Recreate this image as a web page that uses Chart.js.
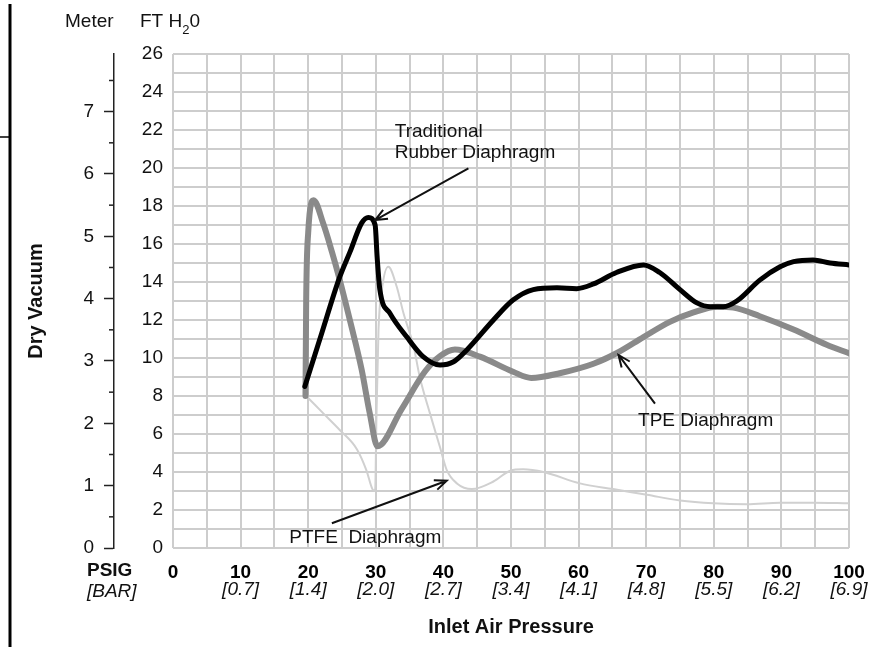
<!DOCTYPE html>
<html>
<head>
<meta charset="utf-8">
<script src="https://cdn.jsdelivr.net/npm/chart.js@4.4.1/dist/chart.umd.min.js"></script>
<style>
    html, body { margin: 0; padding: 0; background: #fff; }
    #wrap { width: 888px; height: 647px; position: relative; }
</style>
</head>
<body>
<div id="wrap"><canvas id="vacuumChart"></canvas></div>
<script>
// ==================== DRY VACUUM vs INLET AIR PRESSURE ====================

// values: inlet pressure (psig) / dry vacuum (ft H2O)
const rubberPsi = [19.5, 22, 24.6, 26.2, 27.9, 28.9, 29.9, 30.2, 30.6, 32.1, 34.6, 37.0, 39.5, 41.5, 43.4, 47.4, 50.3, 53.3, 56.8, 59.7, 62.2, 65.6, 69.6, 72, 75, 77.5, 79.5, 81.4, 83.4, 86.8, 89.8, 91.8, 94.7, 97.2, 100];
const rubberFt  = [8.5, 11.3, 14.2, 15.6, 17.1, 17.4, 17.0, 15.3, 13.6, 12.35, 11.1, 10.07, 9.63, 9.8, 10.4, 12.0, 13.05, 13.6, 13.7, 13.65, 13.9, 14.5, 14.9, 14.5, 13.6, 12.9, 12.7, 12.7, 13.0, 14.1, 14.8, 15.07, 15.16, 15.0, 14.9];

const tpePsi = [19.6, 19.7, 20.0, 20.8, 22.2, 23.5, 24.6, 26.3, 27.9, 29.1, 30.25, 33.8, 37.3, 39.5, 41.7, 45.4, 50.3, 53, 57.2, 62.2, 65.6, 69.6, 73.5, 77, 80.5, 82.9, 86.8, 91.8, 96.7, 100];
const tpeFt  = [8.0, 13.0, 16.6, 18.3, 17.1, 15.6, 14.2, 11.8, 9.4, 7.1, 5.35, 7.3, 9.3, 10.1, 10.45, 10.07, 9.28, 8.95, 9.2, 9.7, 10.25, 11.1, 11.9, 12.4, 12.7, 12.65, 12.2, 11.5, 10.7, 10.25];

const ptfePsi = [19.7, 22.2, 24.7, 27.2, 28.6, 29.5, 29.9, 30.1, 30.4, 30.9, 31.85, 33.1, 34.1, 35.6, 36.5, 38, 39.5, 40.5, 42, 44.2, 47.4, 49.9, 51.8, 54.8, 60.2, 65.1, 70.1, 75, 79.9, 84.9, 89.8, 94.7, 100];
const ptfeFt  = [8.0, 7.1, 6.2, 5.2, 4.1, 3.1, 3.0, 7.0, 11.5, 13.6, 14.8, 13.75, 12.35, 10.6, 9.0, 7.1, 5.3, 4.1, 3.4, 3.1, 3.5, 4.07, 4.14, 4.0, 3.4, 3.1, 2.8, 2.5, 2.35, 2.3, 2.38, 2.38, 2.35];

// bottom axis: bar value printed under every 10 psig
const psigTicks = [0, 10, 20, 30, 40, 50, 60, 70, 80, 90, 100];
const barLabels = ['', '0.7', '1.4', '2.0', '2.7', '3.4', '4.1', '4.8', '5.5', '6.2', '6.9'];

const FT_PER_METER = 3.2808;
const FONT = "'Liberation Sans', Arial, Helvetica, sans-serif";
const GRID = '#cdcdcd';
const INK = '#111';

// call-out labels, anchored in data units (psig, ft)
const notes = [
    { lines: ['Traditional', 'Rubber Diaphragm'], at: [32.8, 21.9], from: [43.7, 19.98], to: [29.9, 17.26] },
    { lines: ['TPE Diaphragm'], at: [68.8, 6.68], from: [71.3, 7.6], to: [65.9, 10.16] },
    { lines: ['PTFE  Diaphragm'], at: [17.2, 0.52], from: [23.5, 1.3], to: [40.5, 3.54] }
];

function pts(xs, ys) {
    return xs.map((x, i) => ({ x: x, y: ys[i] }));
}

function drawArrow(ctx, x0, y0, x1, y1) {
    const a = Math.atan2(y1 - y0, x1 - x0), h = 13, s = 0.4;
    ctx.beginPath();
    ctx.moveTo(x0, y0);
    ctx.lineTo(x1, y1);
    ctx.moveTo(x1 - h * Math.cos(a - s), y1 - h * Math.sin(a - s));
    ctx.lineTo(x1, y1);
    ctx.lineTo(x1 - h * Math.cos(a + s), y1 - h * Math.sin(a + s));
    ctx.stroke();
}

const extras = {
    id: 'extras',
    afterDraw(chart) {
        const ctx = chart.ctx;
        const x = chart.scales.x, y = chart.scales.y, ym = chart.scales.ym;
        ctx.save();

        // page edge rule on the far left
        ctx.strokeStyle = '#000';
        ctx.lineWidth = 3;
        ctx.beginPath(); ctx.moveTo(10, 4); ctx.lineTo(10, chart.height); ctx.stroke();
        ctx.lineWidth = 1.5;
        ctx.beginPath(); ctx.moveTo(0, 137); ctx.lineTo(10, 137); ctx.stroke();

        // half-metre ticks
        ctx.strokeStyle = '#222';
        ctx.lineWidth = 1.5;
        for (let m = 0.5; m < ym.max; m += 1) {
            const py = ym.getPixelForValue(m);
            ctx.beginPath(); ctx.moveTo(ym.right - 5, py); ctx.lineTo(ym.right, py); ctx.stroke();
        }

        // unit headers
        ctx.fillStyle = INK;
        ctx.textAlign = 'left';
        ctx.textBaseline = 'middle';
        ctx.font = '19px ' + FONT;
        ctx.fillText('Meter', 65, 22);
        let hx = 140;
        ctx.fillText('FT H', hx, 22);
        hx += ctx.measureText('FT H').width;
        ctx.font = '13px ' + FONT;
        ctx.fillText('2', hx, 30);
        hx += ctx.measureText('2').width;
        ctx.font = '19px ' + FONT;
        ctx.fillText('0', hx, 22);

        // PSIG / [BAR] row captions
        ctx.font = 'bold 19px ' + FONT;
        ctx.fillText('PSIG', 87, 571);
        ctx.font = 'italic 19px ' + FONT;
        ctx.fillText('[BAR]', 87, 592);

        // call-outs
        ctx.font = '19px ' + FONT;
        ctx.strokeStyle = '#111';
        ctx.lineWidth = 2;
        notes.forEach(n => {
            const tx = x.getPixelForValue(n.at[0]);
            const ty = y.getPixelForValue(n.at[1]);
            n.lines.forEach((t, i) => ctx.fillText(t, tx, ty + i * 21));
            drawArrow(ctx,
                x.getPixelForValue(n.from[0]), y.getPixelForValue(n.from[1]),
                x.getPixelForValue(n.to[0]), y.getPixelForValue(n.to[1]));
        });
        ctx.restore();
    }
};

Chart.defaults.color = INK;
Chart.defaults.font.family = FONT;

new Chart(document.getElementById('vacuumChart'), {
    type: 'line',
    data: {
        datasets: [{
            label: 'Traditional Rubber Diaphragm',
            data: pts(rubberPsi, rubberFt),
            borderColor: '#000',
            borderWidth: 5
        }, {
            label: 'TPE Diaphragm',
            data: pts(tpePsi, tpeFt),
            borderColor: '#8a8a8a',
            borderWidth: 6
        }, {
            label: 'PTFE Diaphragm',
            data: pts(ptfePsi, ptfeFt),
            borderColor: '#d0d0d0',
            borderWidth: 2
        }]
    },
    options: {
        responsive: true,
        maintainAspectRatio: false,
        animation: false,
        layout: { padding: { left: 20, right: 39, top: 54, bottom: 0 } },
        elements: {
            point: { radius: 0 },
            line: { cubicInterpolationMode: 'monotone', fill: false, borderCapStyle: 'round', borderJoinStyle: 'round' }
        },
        plugins: { legend: { display: false }, tooltip: { enabled: false } },
        scales: {
            x: {
                type: 'linear', position: 'bottom', min: 0, max: 100,
                grid: { color: GRID, lineWidth: 2, drawTicks: false },
                border: { display: false },
                ticks: {
                    stepSize: 5, autoSkip: false, maxRotation: 0, padding: 13, color: '#000',
                    font: { size: 19, weight: 'bold' },
                    callback: v => (v % 10 === 0 ? String(v) : '')
                },
                afterFit: s => { s.height = 30; }
            },
            xb: {
                type: 'linear', position: 'bottom', min: 0, max: 100,
                grid: { display: false, drawTicks: false },
                border: { display: false },
                ticks: {
                    stepSize: 10, autoSkip: false, maxRotation: 0, padding: 0,
                    font: { size: 19, style: 'italic' },
                    callback: v => {
                        const b = barLabels[psigTicks.indexOf(v)];
                        return b ? '[' + b + ']' : '';
                    }
                },
                title: {
                    display: true, text: 'Inlet Air Pressure',
                    font: { size: 20, weight: 'bold' },
                    padding: { top: 0, bottom: 8 }
                },
                afterFit: s => { s.height = 69; }
            },
            y: {
                type: 'linear', position: 'left', min: 0, max: 26,
                grid: { color: GRID, lineWidth: 2, drawTicks: false },
                border: { display: false },
                ticks: {
                    stepSize: 1, autoSkip: false, padding: 10,
                    font: { size: 19 },
                    callback: v => (v % 2 === 0 ? String(v) : '')
                },
                afterFit: s => { s.width = 59; }
            },
            ym: {
                type: 'linear', position: 'left', min: 0, max: 26 / FT_PER_METER,
                grid: { drawOnChartArea: false, tickLength: 10, tickWidth: 1.5, tickColor: '#222' },
                border: { color: '#222', width: 1.5 },
                ticks: { stepSize: 1, includeBounds: false, autoSkip: false, padding: 10, font: { size: 19 } },
                title: {
                    display: true, text: 'Dry Vacuum',
                    font: { size: 20, weight: 'bold' },
                    padding: { top: 4, bottom: 0 }
                },
                afterFit: s => { s.width = 94; }
            }
        }
    },
    plugins: [extras]
});
</script>
</body>
</html>
